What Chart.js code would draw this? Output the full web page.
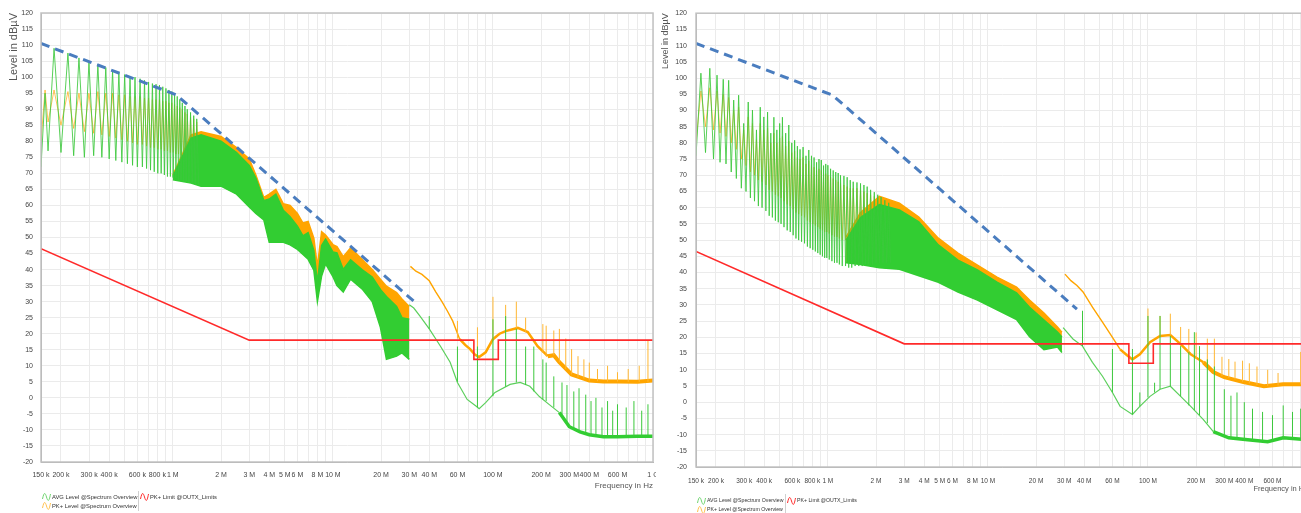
<!DOCTYPE html>
<html>
<head>
<meta charset="utf-8">
<script src="https://cdn.jsdelivr.net/npm/chart.js@4.4.0/dist/chart.umd.min.js"></script>
<style>
  html, body { margin:0; padding:0; background:#fff; width:1301px; height:513px; overflow:hidden; position:relative; }
  .pane { position:absolute; top:0; height:500px; overflow:hidden; }
  #paneL { left:0; width:656px; }
  #paneR { left:655px; width:646px; }
  .legend { position:absolute; font-family:'Liberation Sans', Arial, sans-serif; color:#333; line-height:9px; white-space:nowrap; }
  .legend .row { height:9px; position:relative; }
  .legend .item { display:inline-block; vertical-align:top; }
  .legend svg { vertical-align:middle; margin-right:1px; }
  .legend .sep { display:inline-block; width:1px; height:20px; background:#d0d0d0; position:absolute; top:-2px; }
</style>
</head>
<body>
<div class="pane" id="paneL"><canvas id="chartL" width="672" height="500"></canvas></div>
<div class="pane" id="paneR"><canvas id="chartR" width="672" height="500"></canvas></div>

<div class="legend" id="legL" style="left:42px; top:493px; font-size:5.8px;"></div>
<div class="legend" id="legR" style="left:697px; top:496px; font-size:5.2px;"></div>

<script>
// ============================================
//  Spectrum overview — two measurements side by side
//  frequencies in MHz, levels in dBµV
// ============================================

// ── AXES ─────────────────────────────────────
const xTickMHz  = [0.15, 0.2, 0.3, 0.4, 0.6, 0.8, 1, 2, 3, 4, 5, 6, 8, 10, 20, 30, 40, 60, 100, 200, 300, 400, 600, 1000];
const xTickText = ['150 k','200 k','300 k','400 k','600 k','800 k','1 M','2 M','3 M','4 M','5 M','6 M','8 M','10 M',
                   '20 M','30 M','40 M','60 M','100 M','200 M','300 M','400 M','600 M','1 G'];
const xGridOnlyMHz = [0.5, 0.7, 0.9, 7, 9, 50, 70, 80, 90, 500, 700, 800, 900];

// ── LIMIT (PK+ Limit @OUTX_Limits) ───────────
const limitFreq = [0.15, 3, 76, 76, 108, 108, 1000];
const limitLvl  = [46.5, 18, 18, 12, 12, 18, 18];

// ── LEFT PLOT ────────────────────────────────
const envFreqL = [0.15, 1.05, 34];
const envL     = [110.5, 94.5, 29];

const combFreqL = [0.150,0.159,0.166,0.181,0.200,0.221,0.240,0.259,0.280,0.299,0.320,0.340,0.360,0.381,0.400,0.420,
  0.440,0.460,0.480,0.500,0.520,0.540,0.560,0.580,0.600,0.624,0.645,0.665,0.685,0.705,0.725,0.745,0.765,0.785,0.805,
  0.825,0.845,0.865,0.885,0.905,0.925,0.945,0.965,0.985,1.005,1.025,1.045,1.065,1.085,1.105,1.125,1.145,1.170,1.190,
  1.210,1.230,1.260,1.290,1.320,1.350,1.380,1.410,1.450];
const combAvgL = [72,95,77,109,76.5,107.5,75.5,106,75,104.5,75.5,104,75,103,74.5,102,
  74,101.5,73.5,100.8,73,100.3,72.5,100,72,99.5,72,99,71.5,98.5,71,98,70.5,97.8,70,
  97.5,70,97,69.5,96.5,69,96,69,95.5,68.5,95,68.5,94,68,93,68,92,67.5,91,
  67.5,90,67,89,67,88,66.5,87,66.5];
const combPkL = [80,96,86,96,85,95.5,84,95,83,95,82.5,95.5,82,95,81.5,95,
  81,94.5,80.5,94.5,80,94,79.5,94,79,94,79,93.5,78.5,93.5,78,93,78,93,77.5,
  93,77.5,92.5,77,92.5,77,92,76.5,92,76.5,91.5,76,91,76,90.5,75.5,90,75.5,89,
  75,88.5,75,87.5,74.5,87,74,86,74];

const bandFreqL = [1.0,1.3,1.5,2.0,2.5,3.0,3.3,3.7,4.0,4.4,4.9,5.4,6.0,6.5,7.0,7.6,8.0,8.5,9.0,10.0,10.6,11.6,12.9,15.2,17.6,19.8,21.6,25.0,27.0,30.0];
const avgHighL  = [69,81,82,80,76.5,72.5,68.5,61.5,62,63.5,58.5,56.5,53.5,50.5,51.5,46,36,47.5,49.5,45.5,45.2,40,43,40,37.7,33.8,31.6,28.5,25,24.5];
const avgLowL   = [68,67,66,66,63.5,59.5,57.5,55.5,48.5,48.5,48.5,47.7,46.3,44.7,43.2,39.8,30,38,41.8,37.8,35,33,37,34,30,22,12,13,14,12];
const pkHighL   = [69.5,82,83,81.5,78,74.5,69.5,62.5,63.5,65,60.5,60,57.5,54.5,55,49.8,41,51.8,50.8,47.8,47.2,44,46.8,43.2,40,37,34.8,32.8,30.8,28.5];

const avgTailFreqL = [30,32,35,40,47,54,60,69,79,82,90,103,128,148,170,195,225,260,300,350,400,490,600,800,1000];
const avgTailL     = [29,28,25.5,21.5,16.1,11.1,4.8,-0.5,-2.7,-3.4,-1.5,1.7,4.2,4.8,3.6,0.4,-2.1,-4.6,-9,-10.6,-11.5,-12.1,-12.1,-12,-12];
const pkTailFreqL  = [30.5,33,36,40,44,48,52,56,62,67,72,77,82,90,100,110,120,143,165,190,220,240,260,310,350,400,490,600,800,1000];
const pkTailL      = [41,39.5,38.5,36.5,33,30,27,24,18.3,16.5,15.2,13.5,12.7,14.2,18.3,20,20.8,21.8,20.5,16.1,13,13.3,11.1,7.3,6.4,5.4,5.1,5.1,5,5.4];

const avgSpikeFreqL = [40,60,80,100,120,140,160,180,205,215,240,270,290,320,345,380,410,440,480,520,560,600,680,760,850,930];
const avgSpikeLoL   = [21.5,5,-3,0.5,3.5,4.8,4,2,-0.5,-1,-3,-5,-8,-9.5,-10.5,-11,-11.5,-12,-12,-12,-12,-12,-12,-12,-12,-12];
const avgSpikeHiL   = [25.5,16,16,24.5,25.5,21.5,16,16,12,11,6.7,4.8,4,2,3,1,-1,0,-3,-1,-4,-2,-3,-1,-4,-2];
const pkSpikeFreqL  = [60,80,100,120,140,160,205,215,240,260,285,310,340,370,400,450,520,600,700,820,930];
const pkSpikeLoL    = [18.5,12.7,18.3,20.8,21.8,20.5,14,13,13.3,11.1,9,7.3,6.4,6,5.4,5.2,5.1,5.1,5,5,5];
const pkSpikeHiL    = [24,22,31.5,29,30,25,23,22.5,21,21.5,18.5,15.2,13,12,11,9,10,8,9,10,18];

// ── RIGHT PLOT ───────────────────────────────
const envFreqR = [0.15, 1.07, 36];
const envR     = [110.7, 94.7, 28.7];

const combFreqR = [0.150,0.161,0.172,0.183,0.193,0.203,0.212,0.222,0.231,0.240,0.249,0.258,0.268,0.277,0.288,0.298,
  0.308,0.318,0.328,0.338,0.348,0.358,0.368,0.378,0.388,0.398,0.410,0.420,0.430,0.440,0.450,0.460,0.470,0.480,0.490,
  0.500,0.510,0.520,0.532,0.545,0.557,0.570,0.582,0.595,0.607,0.620,0.632,0.645,0.657,0.670,0.685,0.700,0.715,0.730,
  0.745,0.760,0.775,0.790,0.805,0.820,0.835,0.850,0.865,0.880,0.895,0.910,0.925,0.940,0.955,0.970,0.985,1.000,1.020,
  1.040,1.060,1.080,1.100,1.120,1.140,1.160,1.180,1.200,1.230,1.260,1.290,1.320,1.350,1.380,
  1.410,1.440,1.480,1.520,1.560,1.600,1.640,1.680,1.720,1.760,1.800,1.850,1.900,1.950,2.000,2.050,2.100,2.150,
  2.210,2.270,2.330,2.400,2.460];
const combAvgR = [76,101.5,77,103,75,100.9,74,99.6,73.5,99.3,71,93.2,69,94.7,66,86,
  65,92.6,63,90.1,62,84,60.5,91,60,88,59,89.5,57.5,83,57,87.9,56,84,55.5,
  86,55,87.9,54,83,53,85.5,52.5,80,51.5,80.8,50.5,79,50,78,49.5,78.7,49,76,
  48,77.8,47.5,76,47,75.5,46.5,74,46,75,45.5,74.7,45,73,44.5,73.5,44.5,73.1,44,
  72,43.5,71.5,43,71,43,70.7,42.5,70,42,69.8,42,69.4,41.5,68.5,
  41.5,68,42,67.8,42,67.5,42,67,42.5,66.5,42.5,65.5,42.5,64.8,43,64,43,63.3,
  43,62.3,43,61.5,43];
const combPkR = [80,96,85,97,84,96,83,95,82,94,80,90,78,91,75,84,
  73,88,71,86,70,81,68.5,86,68,84,67,84.5,65.5,80,65,83,64,80,63.5,
  81.5,63,82,62,79,61,80.5,60.5,77,59.5,77.5,58.5,75.5,58,75,57.5,75.5,57,73.5,
  56,74.5,55.5,73,55,72.5,54.5,71.5,54,72,53.5,71.5,53,70.5,52.5,70.5,52.5,70,52,
  69.5,51.5,69,51,68.5,51,68,50.5,67.5,50,67,50,66.5,49.5,66,
  49.5,66,50,66,50,65.5,50,65,50.5,64.5,50.5,64,50.5,63.5,51,63,51,62.5,
  51,62,51,61.5,51];

const bandFreqR = [1.3,1.6,2.1,2.8,3.7,4.9,6.5,8.6,11.4,15.1,18.2,22.4,27.2,29.0];
const avgHighR  = [50,57,61,59.3,55.6,48.5,43.8,40.8,37,33.7,29.3,25.3,21.6,20.1];
const avgLowR   = [43,42.5,41.5,41,39,37,34,31.5,28.5,25.5,20.2,16.2,17,15.3];
const pkHighR   = [51,58.5,63.5,61.4,57.1,50.6,46,42.3,38.6,35.5,31.5,27.5,23.2,21.6];

const avgTailFreqR = [29.5,34,39,45,52,60,67,80,89,103,119,138,160,185,222,256,320,420,560,700,1000];
const avgTailR     = [23,19.5,17.3,12.3,8,3,-1.3,-3.8,-1.3,1.8,4,4.9,1.8,-1.3,-5.4,-9.1,-11,-11.6,-12.2,-11,-11.6];
const pkTailFreqR  = [30.3,33,36,39.3,45,52,60,67,74,80,89,103,119,138,160,185,222,256,300,395,530,700,1000];
const pkTailR      = [39.5,37.5,36,34,29.3,24.7,20,16.3,14.5,13.2,14.8,18.5,20.4,20.7,17.9,14.8,12.3,9.3,7.7,6.2,4.9,5.5,5.5];

const avgSpikeFreqR = [39,60,80,89,100,110,119,138,160,180,195,210,235,260,300,330,360,400,450,520,600,700,800,900];
const avgSpikeLoR   = [17.3,3,-3.8,-1.3,1.5,3,4,4.9,1.8,-1,-2.5,-4,-6.5,-9,-10.5,-11,-11.5,-11.6,-12,-12,-12,-11,-11,-11.5];
const avgSpikeHiR   = [28.2,16.4,16.4,3,26.6,6,26.6,20.4,17.3,15.4,21.6,17.3,13.2,11,4,2,3,0,-2,-3,-4,-1,-3,-2];
const pkSpikeFreqR  = [100,119,138,160,180,200,235,260,290,320,350,390,430,480,560,650,900];
const pkSpikeLoR    = [18.5,20.4,20.7,17.9,15.4,13.5,11.5,9,8,7.5,7,6.3,5.8,5.3,5,5.2,5.5];
const pkSpikeHiR    = [28.9,26.6,27.3,23.2,22.6,21.5,19.6,19.6,14,13.3,12.5,12.8,12,11,10,9,15.5];

// ── COLORI ───────────────────────────────────
const C_AVG = '#32cd32';
const C_AVG_LIGHT = 'rgba(60,200,60,0.85)';
const C_PK = '#ffa500';
const C_PK_COMB = 'rgba(255,165,0,0.65)';
const C_LIMIT = '#ff2a2a';
const C_ENV = '#4a7dbf';

// ── UTILITY ──────────────────────────────────
function pts(fs, vs) {
  return fs.map((f, i) => ({ x: f, y: vs[i] }));
}

function spikes(fs, lo, hi) {
  return fs.flatMap((f, i) => [{ x: f, y: lo[i] }, { x: f, y: hi[i] }, { x: f, y: null }]);
}

const framePlugin = {
  id: 'frame',
  afterDatasetsDraw(chart) {
    const { ctx, chartArea: a } = chart;
    ctx.save();
    ctx.strokeStyle = '#c2c2c2';
    ctx.lineWidth = 1.5;
    ctx.strokeRect(a.left, a.top, a.right - a.left, a.bottom - a.top);
    ctx.restore();
  }
};

// ── CHART ────────────────────────────────────
function buildChart(canvasId, d, geo) {
  const line = (extra) => Object.assign({
    pointRadius: 0, borderWidth: 1, tension: 0, fill: false, spanGaps: false
  }, extra);

  const datasets = [
    line({ data: pts(limitFreq, limitLvl), borderColor: C_LIMIT, borderWidth: 1.6, order: 0 }),             // 0
    line({ data: pts(d.envFreq, d.env), borderColor: C_ENV, borderWidth: 3, borderDash: [9, 6], order: 1 }), // 1
    line({ data: spikes(d.avgSpikeFreq, d.avgSpikeLo, d.avgSpikeHi), borderColor: '#3cc83c', order: 2 }),  // 2
    line({ data: pts(d.avgTailFreq, d.avgTail), borderColor: '#5ccf5c', borderWidth: 1.2, order: 3,
          segment: { borderWidth: c => (c.p0.parsed.x > 250 ? 3.5 : 1.2),
                     borderColor: c => (c.p0.parsed.x > 250 ? C_AVG : '#5ccf5c') } }),                     // 3
    line({ data: pts(d.combFreq, d.combAvg), borderColor: C_AVG_LIGHT, order: 4 }),                         // 4
    line({ data: pts(d.bandFreq, d.avgLow), borderColor: C_AVG, borderWidth: 1.5, order: 6 }),              // 5
    line({ data: pts(d.bandFreq, d.avgHigh), borderColor: C_AVG, borderWidth: 1.5, order: 5,
          fill: 5, backgroundColor: C_AVG }),                                                               // 6
    line({ data: spikes(d.pkSpikeFreq, d.pkSpikeLo, d.pkSpikeHi), borderColor: '#ffb733', order: 7 }),     // 7
    line({ data: pts(d.pkTailFreq, d.pkTail), borderColor: C_PK, borderWidth: 1.4, order: 8,
          segment: { borderWidth: c => (c.p0.parsed.x > 200 ? 4 : (c.p0.parsed.x > 60 ? 2.5 : 1.4)) } }),  // 8
    line({ data: pts(d.combFreq, d.combPk), borderColor: C_PK_COMB, order: 9 }),                           // 9
    line({ data: pts(d.bandFreq, d.pkHigh), borderColor: C_PK, borderWidth: 1.5, order: 10,
          fill: 5, backgroundColor: C_PK })                                                                 // 10
  ];

  const font = s => ({ family: "'Liberation Sans', Arial, sans-serif", size: s });

  return new Chart(document.getElementById(canvasId), {
    type: 'line',
    data: { datasets },
    plugins: [framePlugin],
    options: {
      responsive: false,
      animation: false,
      events: [],
      devicePixelRatio: 1,
      layout: { padding: { left: 0, top: 13, right: 19, bottom: 0 } },
      plugins: { legend: { display: false }, tooltip: { enabled: false } },
      scales: {
        x: {
          type: 'logarithmic',
          min: 0.15,
          max: 1000,
          afterFit: s => { s.height = geo.xAxisH; },
          afterBuildTicks: s => {
            s.ticks = xTickMHz.concat(xGridOnlyMHz).sort((a, b) => a - b).map(v => ({ value: v }));
          },
          ticks: {
            autoSkip: false, maxRotation: 0, padding: geo.xTickPad, color: '#444', font: font(geo.xTickSize),
            callback: v => { const i = xTickMHz.indexOf(v); return i >= 0 ? xTickText[i] : ''; }
          },
          grid: { color: '#ebebeb', drawTicks: false },
          border: { color: '#aaaaaa' },
          title: {
            display: true, text: 'Frequency in Hz', align: 'end', color: '#555',
            font: font(geo.titleSize),
            padding: { top: 0, bottom: geo.xTitlePad }
          }
        },
        y: {
          type: 'linear',
          min: -20,
          max: 120,
          afterFit: s => { s.width = 41; },
          ticks: { stepSize: 5, padding: geo.yTickPad, color: '#444', font: font(geo.yTickSize) },
          grid: { color: '#ebebeb', drawTicks: false },
          border: { color: '#aaaaaa' },
          title: {
            display: true, text: 'Level in dBµV', align: 'end', color: '#555',
            font: font(geo.yTitleSize),
            padding: { top: geo.yTitlePad, bottom: 0 }
          }
        }
      }
    }
  });
}

// ── LEGENDA ──────────────────────────────────
function wave(color) {
  return `<svg width="9" height="8" viewBox="0 0 9 8"><path d="M0.5 6 C2 -1, 3 -1, 4.5 4 S7 9, 8.5 1" fill="none" stroke="${color}" stroke-width="1"/></svg>`;
}

function buildLegend(id, sepLeft) {
  const el = document.getElementById(id);
  el.innerHTML = `
    <div class="row"><span class="item">${wave('#6fd46f')}AVG Level @Spectrum Overview</span><span class="sep" style="left:${sepLeft}px"></span><span class="item" style="position:absolute; left:${sepLeft + 2}px">${wave(C_LIMIT)}PK+ Limit @OUTX_Limits</span></div>
    <div class="row"><span class="item">${wave('#ffc04d')}PK+ Level @Spectrum Overview</span></div>`;
}

// ── INIT ─────────────────────────────────────
buildChart('chartL', {
  envFreq: envFreqL, env: envL,
  combFreq: combFreqL, combAvg: combAvgL, combPk: combPkL,
  bandFreq: bandFreqL, avgHigh: avgHighL, avgLow: avgLowL, pkHigh: pkHighL,
  avgTailFreq: avgTailFreqL, avgTail: avgTailL, pkTailFreq: pkTailFreqL, pkTail: pkTailL,
  avgSpikeFreq: avgSpikeFreqL, avgSpikeLo: avgSpikeLoL, avgSpikeHi: avgSpikeHiL,
  pkSpikeFreq: pkSpikeFreqL, pkSpikeLo: pkSpikeLoL, pkSpikeHi: pkSpikeHiL
}, { xAxisH: 38, xTickSize: 7, yTickSize: 7, titleSize: 8, yTitleSize: 11, xTickPad: 9, yTickPad: 8, xTitlePad: 9, yTitlePad: 7 });

buildChart('chartR', {
  envFreq: envFreqR, env: envR,
  combFreq: combFreqR, combAvg: combAvgR, combPk: combPkR,
  bandFreq: bandFreqR, avgHigh: avgHighR, avgLow: avgLowR, pkHigh: pkHighR,
  avgTailFreq: avgTailFreqR, avgTail: avgTailR, pkTailFreq: pkTailFreqR, pkTail: pkTailR,
  avgSpikeFreq: avgSpikeFreqR, avgSpikeLo: avgSpikeLoR, avgSpikeHi: avgSpikeHiR,
  pkSpikeFreq: pkSpikeFreqR, pkSpikeLo: pkSpikeLoR, pkSpikeHi: pkSpikeHiR
}, { xAxisH: 33, xTickSize: 6.5, yTickSize: 7, titleSize: 7.5, yTitleSize: 9, xTickPad: 10, yTickPad: 9, xTitlePad: 7, yTitlePad: 5 });

buildLegend('legL', 96);
buildLegend('legR', 88);
</script>
</body>
</html>
